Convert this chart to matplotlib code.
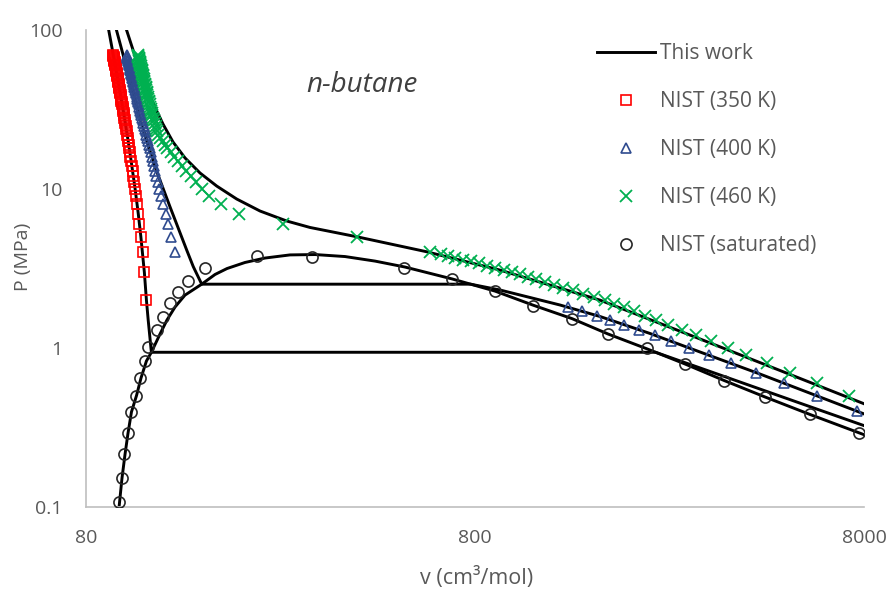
import matplotlib
matplotlib.use("Agg")
import matplotlib.pyplot as plt
from matplotlib.lines import Line2D
from matplotlib.ticker import NullLocator

plt.rcParams['font.family'] = ['Open Sans', 'DejaVu Sans']

# ---------------- model curves ("This work") ----------------
# 350 K isotherm: compressed liquid, two-phase tie line, vapour
iso350_v = [91.5, 94.0, 96.4, 100.0, 102.7, 104.5, 107.0, 109.0, 110.7, 113.0,
            114.4, 115.6, 117.8, 2330, 2800, 3500, 4500, 6000, 8000]
iso350_P = [100, 70, 50, 30, 20, 15, 10, 7, 5, 3,
            2, 1.5, 0.94, 0.94, 0.802, 0.662, 0.533, 0.416, 0.325]

# 400 K isotherm
iso400_v = [95.8, 102.9, 111.4, 120.4, 131.5, 145.2, 150.95, 158.7, 779.6,
            927.8, 1108, 1323, 1677, 2254, 3030, 4322, 8000]
iso400_P = [100, 52.1, 25.3, 13.75, 7.74, 4.13, 3.25, 2.52, 2.52,
            2.316, 2.078, 1.864, 1.578, 1.234, 0.944, 0.686, 0.385]

# 460 K isotherm (supercritical)
iso460_v = [101.7, 108.8, 118.95, 126.2, 133.9, 143.8, 157.1, 173.4, 195.2,
            224.1, 262.5, 301.2, 400.2, 600.9, 927.8, 1677, 3030, 4866, 8000]
iso460_P = [100, 60.2, 34.7, 25.6, 19.75, 15.67, 12.61, 10.44, 8.65,
            7.27, 6.29, 5.73, 4.99, 4.03, 3.09, 2.00, 1.14, 0.722, 0.446]

# saturation dome
dome_v = [97.3, 99.0, 100.8, 102.6, 104.7, 107.9, 110.8, 114.4, 117.8, 124.0,
          129.2, 135.5, 143.7, 158.7, 171.7, 184.3, 205.0, 230.9, 267.6, 310.4,
          370.6, 442.8, 528.6, 698.2, 779.6, 900.6, 1128, 1421, 1758, 2202,
          2330, 2774, 3493, 4453, 5810, 8000]
dome_P = [0.100, 0.152, 0.215, 0.292, 0.396, 0.503, 0.648, 0.828, 0.94, 1.225,
          1.50, 1.81, 2.15, 2.52, 2.90, 3.16, 3.45, 3.68, 3.85, 3.87,
          3.76, 3.52, 3.23, 2.72, 2.52, 2.28, 1.86, 1.53, 1.225, 0.993,
          0.94, 0.793, 0.625, 0.492, 0.382, 0.285]

# ---------------- NIST reference data ----------------
nist350_P = [2, 3, 4, 5, 6, 7, 8, 9, 10, 11, 12, 13, 14, 15, 16, 17, 18, 19, 20,
             21, 22, 23, 24, 25, 26, 27, 28, 29, 30, 31, 32, 33, 34, 35, 36, 37,
             38, 39, 40, 41, 42, 43, 44, 45, 46, 47, 48, 49, 50, 51, 52, 53, 54,
             55, 56, 57, 58, 59, 60, 61, 62, 63, 64, 65, 66, 67, 68, 69, 70]
nist350_v = [114.4, 113.0, 111.8, 110.7, 109.8, 109.0, 108.3, 107.6, 107.0, 106.4,
             105.9, 105.4, 105.0, 104.5, 104.1, 103.7, 103.4, 103.0, 102.7, 102.4,
             102.1, 101.8, 101.5, 101.2, 100.9, 100.7, 100.4, 100.2, 100.0, 99.7,
             99.5, 99.3, 99.1, 98.9, 98.7, 98.5, 98.3, 98.2, 98.0, 97.8,
             97.6, 97.5, 97.3, 97.2, 97.0, 96.9, 96.7, 96.6, 96.4, 96.3,
             96.2, 96.0, 95.9, 95.8, 95.6, 95.5, 95.4, 95.3, 95.1, 95.0,
             94.9, 94.8, 94.7, 94.6, 94.5, 94.3, 94.2, 94.1, 94.0]

nist400_P = [4, 5, 6, 7, 8, 9, 10, 11, 12, 13, 14, 15, 16, 17, 18, 19, 20, 21,
             22, 23, 24, 25, 26, 27, 28, 29, 30, 31, 32, 33, 34, 35, 36, 37, 38,
             39, 40, 41, 42, 43, 44, 45, 46, 47, 48, 49, 50, 51, 52, 53, 54, 55,
             56, 57, 58, 59, 60, 61, 62, 63, 64, 65, 66, 67, 68, 69, 70,
             1.8, 1.7, 1.6, 1.5, 1.4, 1.3, 1.2, 1.1, 1.0, 0.9, 0.8, 0.7, 0.6,
             0.5, 0.4]
nist400_v = [135.5, 132.5, 130.1, 128.1, 126.4, 124.9, 123.6, 122.5, 121.4, 120.4,
             119.5, 118.7, 118.0, 117.2, 116.6, 115.9, 115.4, 114.8, 114.3, 113.8,
             113.3, 112.8, 112.4, 111.9, 111.5, 111.1, 110.8, 110.4, 110.1, 109.7,
             109.4, 109.1, 108.8, 108.5, 108.2, 107.9, 107.6, 107.4, 107.1, 106.9,
             106.6, 106.4, 106.1, 105.9, 105.7, 105.5, 105.3, 105.0, 104.8, 104.6,
             104.4, 104.3, 104.1, 103.9, 103.7, 103.5, 103.4, 103.2, 103.0, 102.9,
             102.7, 102.5, 102.4, 102.2, 102.1, 101.9, 101.8,
             1390, 1508, 1644, 1782, 1937, 2117, 2325, 2559, 2843, 3195, 3643,
             4226, 4986, 6055, 7680]

nist460_P = [70, 69, 68, 67, 66, 65, 64, 63, 62, 61, 60, 59, 58, 57, 56, 55, 54,
             53, 52, 51, 50, 49, 48, 47, 46, 45, 44, 43, 42, 41, 40, 39, 38, 37,
             36, 35, 34, 33, 32, 31, 30, 29, 28, 27, 26, 25, 24, 23, 22, 21, 20,
             19, 18, 17, 16, 15, 14, 13, 12, 11, 10, 9, 8, 7, 6, 5, 4,
             3.9, 3.8, 3.7, 3.6, 3.5, 3.4, 3.3, 3.2, 3.1, 3.0, 2.9, 2.8, 2.7,
             2.6, 2.5, 2.4, 2.3, 2.2, 2.1, 2.0, 1.9, 1.8, 1.7, 1.6, 1.5, 1.4,
             1.3, 1.2, 1.1, 1.0, 0.9, 0.8, 0.7, 0.6, 0.5]
nist460_v = [108.8, 109.0, 109.1, 109.3, 109.4, 109.6, 109.7, 109.9, 110.1, 110.3,
             110.4, 110.6, 110.8, 111.0, 111.2, 111.4, 111.5, 111.7, 112.0, 112.2,
             112.4, 112.6, 112.8, 113.0, 113.3, 113.5, 113.8, 114.0, 114.3, 114.5,
             114.8, 115.1, 115.4, 115.7, 116.0, 116.3, 116.6, 116.9, 117.3, 117.7,
             118.0, 118.5, 119.1, 119.6, 120.2, 120.8, 121.4, 122.1, 122.8, 124.3,
             125.9, 127.7, 129.5, 132.0, 134.8, 137.7, 141.0, 144.6, 148.6, 153.0,
             158.8, 165.5, 178.0, 198.0, 256.0, 398.0, 613.0,
             653.0, 681.3, 711.8, 744.4, 779.5, 817.3, 858.2, 902.5, 950.6, 994.9,
             1041.8, 1092.7, 1148.2, 1208.7, 1275.0, 1347.8, 1428.1, 1517.2, 1616.4,
             1727.3, 1823.1, 1929.8, 2049.5, 2184.5, 2337.9, 2514.1, 2718.0, 2956.6,
             3238.6, 3575.3, 3988.3, 4506.3, 5174.8, 6069.5, 7328.6]

nist_sat_P = [0.107, 0.152, 0.215, 0.291, 0.394, 0.501, 0.650, 0.828, 1.01, 1.30,
              1.57, 1.91, 2.24, 2.65, 3.17, 3.79,
              3.74, 3.17, 2.72, 2.28, 1.85, 1.52, 1.22, 0.996, 0.793, 0.623,
              0.494, 0.383, 0.290]
nist_sat_v = [97.4, 98.8, 100.2, 102.4, 104.4, 107.6, 110.2, 113.4, 115.7, 121.5,
              126.4, 131.5, 137.7, 146.6, 161.8, 220.2,
              304.9, 525.4, 698, 901, 1128, 1418, 1758, 2211, 2774, 3493,
              4453, 5810, 7744]

x_ticks = [80, 800, 8000]
x_tick_labels = ["80", "800", "8000"]
y_ticks = [0.1, 1, 10, 100]
y_tick_labels = ["0.1", "1", "10", "100"]

# ---------------- figure ----------------
TEXT = "#595959"
RED = "#FF0000"
BLUE = "#2F4B8F"
GREEN = "#00B050"

fig = plt.figure(figsize=(8.89, 5.98), dpi=100)
ax = fig.add_axes([86 / 889, 91 / 598, 778 / 889, 477 / 598])
ax.set_xscale("log")
ax.set_yscale("log")
ax.set_xlim(80, 8000)
ax.set_ylim(0.1, 100)

line_kw = dict(color="black", lw=2.1, solid_joinstyle="round", zorder=2)
for xs, ys in [(iso350_v, iso350_P), (iso400_v, iso400_P),
               (iso460_v, iso460_P), (dome_v, dome_P)]:
    ax.plot(xs, ys, **line_kw)

ax.plot(nist350_v, nist350_P, ls="none", marker="s", ms=7.5, mfc="none",
        mec=RED, mew=1.2, zorder=3)
ax.plot(nist400_v, nist400_P, ls="none", marker="^", ms=7.5, mfc="none",
        mec=BLUE, mew=1.2, zorder=3)
ax.plot(nist460_v, nist460_P, ls="none", marker="x", ms=8.5,
        mec=GREEN, mew=1.3, zorder=3)
ax.plot(nist_sat_v, nist_sat_P, ls="none", marker="o", ms=8, mfc="none",
        mec="#262626", mew=1.2, zorder=3)

ax.set_xticks(x_ticks)
ax.set_xticklabels(x_tick_labels)
ax.set_yticks(y_ticks)
ax.set_yticklabels(y_tick_labels)
ax.xaxis.set_minor_locator(NullLocator())
ax.yaxis.set_minor_locator(NullLocator())
ax.tick_params(axis="both", length=0, labelsize=14, colors=TEXT)
ax.tick_params(axis="x", pad=16)
ax.tick_params(axis="y", pad=17)

for side in ("top", "right"):
    ax.spines[side].set_visible(False)
for side in ("left", "bottom"):
    ax.spines[side].set_color("#BFBFBF")
    ax.spines[side].set_linewidth(1.2)

fig.text(477 / 889, 1 - 578 / 598, "v (cm³/mol)", ha="center", va="center",
         fontsize=15.5, color=TEXT)
fig.text(23 / 889, 1 - 257 / 598, "P (MPa)", ha="center", va="center",
         rotation=90, fontsize=14, color=TEXT)
fig.text(362 / 889, 1 - 85 / 598, "n-butane", ha="center", va="center",
         fontsize=20, style="italic", color="#404040")

handles = [
    Line2D([], [], color="black", lw=2.1),
    Line2D([], [], ls="none", marker="s", ms=7.5, mfc="none", mec=RED, mew=1.2),
    Line2D([], [], ls="none", marker="^", ms=7.5, mfc="none", mec=BLUE, mew=1.2),
    Line2D([], [], ls="none", marker="x", ms=8.5, mec=GREEN, mew=1.3),
    Line2D([], [], ls="none", marker="o", ms=8, mfc="none", mec="#262626", mew=1.2),
]
labels = ["This work", "NIST (350 K)", "NIST (400 K)", "NIST (460 K)",
          "NIST (saturated)"]
leg = fig.legend(handles, labels, loc="upper left",
                 bbox_to_anchor=(597 / 889, 1 - 43 / 598),
                 frameon=False, fontsize=15, handlelength=2.79,
                 handletextpad=0.25, labelspacing=1.3, borderpad=0,
                 borderaxespad=0)
for t in leg.get_texts():
    t.set_color(TEXT)

fig.savefig("out.png", dpi=100)
